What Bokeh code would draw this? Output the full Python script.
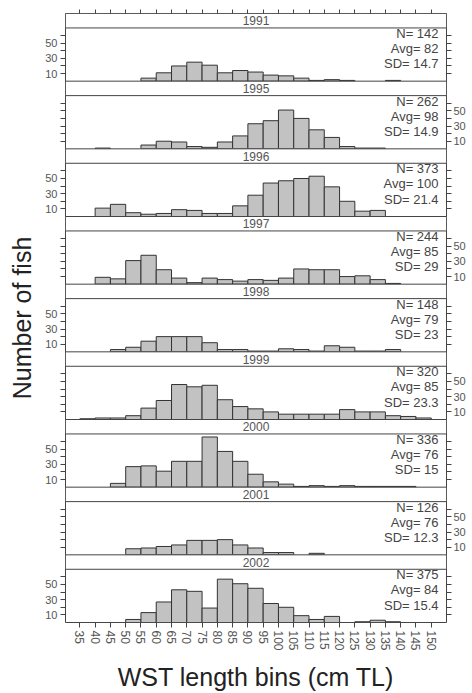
from bokeh.plotting import figure
from bokeh.models import LinearAxis, FixedTicker, Range1d
from bokeh.embed import file_html
from bokeh.resources import INLINE
from bokeh.core.properties import value

# ---------------- data ----------------
bins = [35, 40, 45, 50, 55, 60, 65, 70, 75, 80, 85, 90, 95, 100,
        105, 110, 115, 120, 125, 130, 135, 140, 145, 150]
years = [1991, 1995, 1996, 1997, 1998, 1999, 2000, 2001, 2002]

c1991 = [0, 0, 0, 0, 4, 11, 20, 25, 21, 11, 14, 12, 8, 7, 4, 1, 2, 1, 0, 0, 1, 0, 0, 0]
c1995 = [0, 1, 0, 0, 5, 10, 9, 3, 2, 9, 17, 33, 37, 51, 40, 25, 15, 3, 1, 1, 0, 0, 0, 0]
c1996 = [0, 11, 16, 5, 3, 4, 9, 8, 4, 4, 14, 28, 44, 47, 50, 53, 39, 20, 7, 8, 0, 0, 0, 0]
c1997 = [0, 9, 7, 31, 38, 19, 8, 2, 8, 6, 4, 6, 5, 8, 20, 19, 19, 10, 11, 6, 1, 0, 0, 0]
c1998 = [0, 0, 3, 6, 14, 20, 20, 20, 12, 3, 3, 1, 1, 4, 3, 1, 8, 6, 1, 1, 3, 0, 0, 0]
c1999 = [1, 2, 2, 5, 15, 25, 46, 43, 45, 26, 17, 14, 10, 7, 7, 7, 7, 13, 10, 10, 5, 4, 2, 0]
c2000 = [0, 0, 5, 27, 28, 21, 34, 34, 66, 47, 34, 17, 7, 4, 1, 2, 1, 2, 1, 1, 1, 1, 0, 0]
c2001 = [0, 0, 0, 8, 9, 11, 13, 19, 19, 20, 13, 9, 3, 3, 0, 2, 0, 0, 0, 0, 0, 0, 0, 0]
c2002 = [0, 0, 0, 4, 13, 27, 43, 41, 19, 57, 51, 45, 25, 20, 9, 4, 8, 0, 1, 3, 1, 0, 0, 0]
counts = [c1991, c1995, c1996, c1997, c1998, c1999, c2000, c2001, c2002]

n_fish = [142, 262, 373, 244, 148, 320, 336, 126, 375]
avg_len = [82, 98, 100, 85, 79, 85, 76, 76, 84]
sd_len = [14.7, 14.9, 21.4, 29, 23, 23.3, 15, 12.3, 15.4]

y_tick_vals = [10, 20, 30, 40, 50, 60]
y_labelled = [10, 30, 50]

# ---------------- layout constants ----------------
BIN_W = 5
PANEL = 70
STRIP = 19
BLOCK = PANEL + STRIP
NP = len(years)
X0, X1 = 30.3, 155.0
FONT = "Liberation Sans"

p = figure(width=472, height=693, x_range=Range1d(X0, X1),
           y_range=Range1d(0, NP * BLOCK), output_backend="svg",
           toolbar_location=None, min_border_left=65, min_border_right=26,
           min_border_top=13, min_border_bottom=67)
p.xgrid.visible = False
p.ygrid.visible = False
p.outline_line_color = "#444444"
p.background_fill_color = "white"

lefts, rights, bottoms, tops = [], [], [], []
s_l, s_r, s_b, s_t = [], [], [], []
lab_x, lab_y, lab_t = [], [], []
st_x, n_y, a_y, sd_y, n_t, a_t, sd_t = [], [], [], [], [], [], []
L_major, L_minor, R_major, R_minor = [], [], [], []
left_over, right_over = {}, {}
for i, yr in enumerate(years):
    base = (NP - 1 - i) * BLOCK
    for b, c in zip(bins, counts[i]):
        if c > 0:
            lefts.append(b)
            rights.append(b + BIN_W)
            bottoms.append(base)
            tops.append(base + c)
    s_l.append(X0)
    s_r.append(X1)
    s_b.append(base + PANEL)
    s_t.append(base + BLOCK)
    lab_x.append((X0 + X1) / 2)
    lab_y.append(base + PANEL + STRIP / 2)
    lab_t.append(str(yr))
    st_x.append(152.4)
    n_y.append(base + PANEL - 7.3)
    a_y.append(base + PANEL - 27.0)
    sd_y.append(base + PANEL - 47.0)
    n_t.append(f"N= {n_fish[i]}")
    a_t.append(f"Avg= {avg_len[i]}")
    sd_t.append(f"SD= {sd_len[i]:g}")
    for v in y_tick_vals:
        t = base + v
        labelled = v in y_labelled
        if i % 2 == 0:
            R_minor.append(t)
            if labelled:
                L_major.append(t)
                left_over[t] = str(v)
            else:
                L_minor.append(t)
        else:
            L_minor.append(t)
            if labelled:
                R_major.append(t)
                right_over[t] = str(v)
            else:
                R_minor.append(t)

# histogram bars
p.quad(left=lefts, right=rights, bottom=bottoms, top=tops,
       fill_color="#c2c2c2", line_color="#333333", line_width=1)

# strips
p.quad(left=s_l, right=s_r, bottom=s_b, top=s_t, fill_color="white",
       line_color="#444444", line_width=1)
p.text(x=lab_x, y=lab_y, text=lab_t, text_align="center",
       text_baseline="middle", text_font=value(FONT),
       text_font_size="12px", text_color="#555555")

# stats text
for ys, ts in ((n_y, n_t), (a_y, a_t), (sd_y, sd_t)):
    p.text(x=st_x, y=ys, text=ts, text_align="right", text_baseline="middle",
           text_font=value(FONT), text_font_size="13px", text_color="#444444")


def style_axis(ax, tick_len=5):
    ax.axis_line_color = None
    ax.major_tick_in = 0
    ax.major_tick_out = tick_len
    ax.minor_tick_in = 0
    ax.minor_tick_out = tick_len
    ax.major_tick_line_color = "#444444"
    ax.minor_tick_line_color = "#444444"
    ax.major_label_text_font = FONT
    ax.major_label_text_color = "#555555"
    ax.major_label_standoff = 3


yl = p.yaxis[0]
yl.ticker = FixedTicker(ticks=L_major, minor_ticks=L_minor)
yl.major_label_overrides = left_over
style_axis(yl)
yl.major_label_text_font_size = "11px"
yl.axis_label = "Number of fish"
yl.axis_label_text_font = FONT
yl.axis_label_text_font_size = "25px"
yl.axis_label_text_font_style = "normal"
yl.axis_label_text_color = "#222222"
yl.axis_label_standoff = 6

yr_ax = LinearAxis(ticker=FixedTicker(ticks=R_major, minor_ticks=R_minor),
                   major_label_overrides=right_over)
style_axis(yr_ax)
yr_ax.major_label_text_font_size = "11px"
yr_ax.major_label_standoff = 2
p.add_layout(yr_ax, "right")

xb = p.xaxis[0]
xb.ticker = FixedTicker(ticks=bins, minor_ticks=[])
style_axis(xb)
xb.major_label_text_font_size = "12px"
xb.major_label_orientation = "vertical"
xb.axis_label = "WST length bins (cm TL)"
xb.axis_label_text_font = FONT
xb.axis_label_text_font_size = "25px"
xb.axis_label_text_font_style = "normal"
xb.axis_label_text_color = "#222222"
xb.axis_label_standoff = 9

xt = LinearAxis(ticker=FixedTicker(ticks=[], minor_ticks=bins))
style_axis(xt, tick_len=4)
p.add_layout(xt, "above")

open("out.html", "w").write(file_html(p, INLINE))
